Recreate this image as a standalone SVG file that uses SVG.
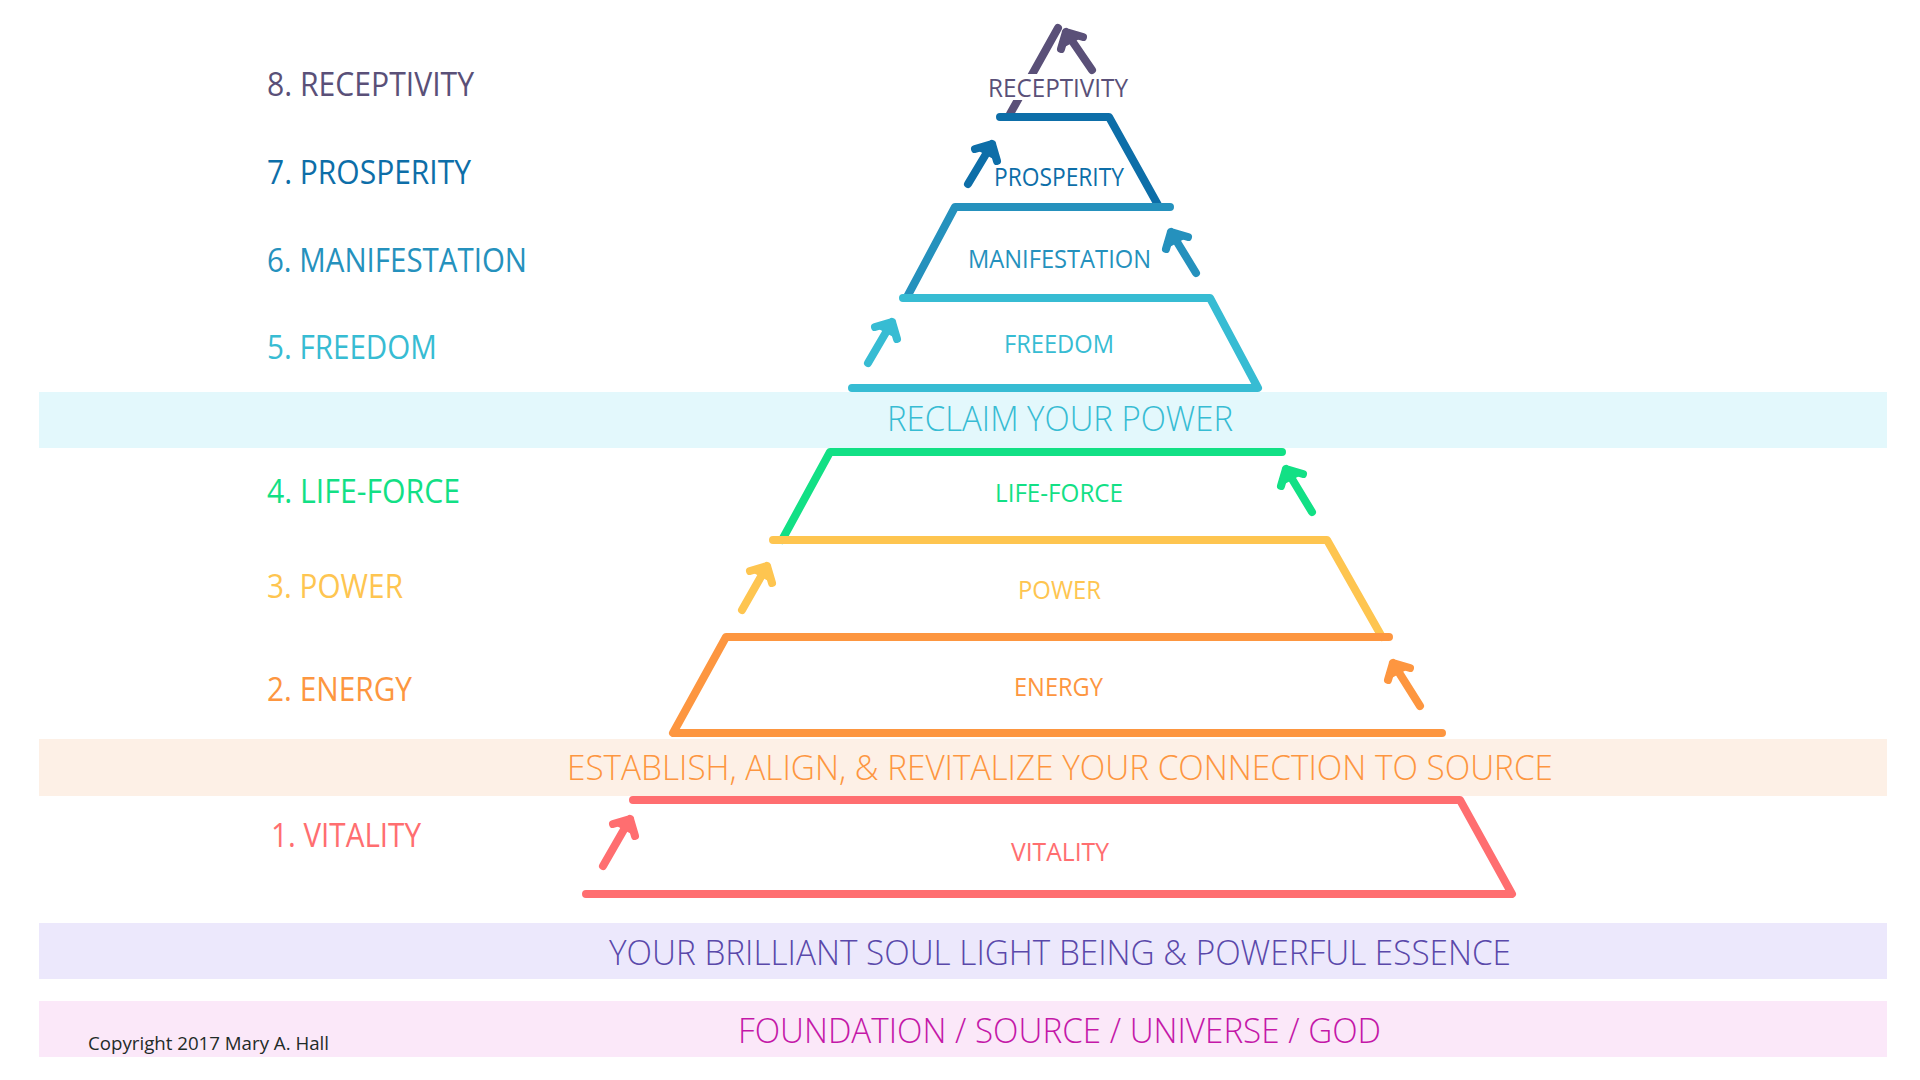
<svg xmlns="http://www.w3.org/2000/svg" width="1920" height="1080" viewBox="0 0 1920 1080">
<defs>
<style>
.ln{fill:none;stroke-width:8;stroke-linecap:round;stroke-linejoin:round}
.lbl{font-family:"Open Sans","Noto Sans","Liberation Sans",sans-serif;font-size:32px}
.in{font-family:"Open Sans","Noto Sans","Liberation Sans",sans-serif;font-size:26px;text-anchor:middle}
.band{font-family:"Open Sans","Noto Sans","Liberation Sans",sans-serif;font-size:35px;font-weight:300;text-anchor:middle}
.c8{stroke:#5a5078;fill:#5a5078}
.c7{stroke:#0d6ea8;fill:#0d6ea8}
.c6{stroke:#2591bd;fill:#2591bd}
.c5{stroke:#37bcd3;fill:#37bcd3}
.c4{stroke:#12e085;fill:#12e085}
.c3{stroke:#fec550;fill:#fec550}
.c2{stroke:#fd9640;fill:#fd9640}
.c1{stroke:#ff6e70;fill:#ff6e70}
text{stroke:none}
</style>
</defs>
<rect width="1920" height="1080" fill="#ffffff"/>

<g id="band-reclaim">
<rect x="39" y="392" width="1848" height="56" fill="#e3f8fc"/>
<text class="band" x="1060" y="431" fill="#37bcd3" textLength="346" lengthAdjust="spacingAndGlyphs">RECLAIM YOUR POWER</text>
</g>
<g id="band-establish">
<rect x="39" y="739" width="1848" height="57" fill="#fdf0e6"/>
<text class="band" x="1060" y="780" fill="#fd9640" textLength="986" lengthAdjust="spacingAndGlyphs">ESTABLISH, ALIGN, &amp; REVITALIZE YOUR CONNECTION TO SOURCE</text>
</g>
<g id="band-soul">
<rect x="39" y="923" width="1848" height="56" fill="#ece8fc"/>
<text class="band" x="1060" y="965" fill="#5a48aa" textLength="902" lengthAdjust="spacingAndGlyphs">YOUR BRILLIANT SOUL LIGHT BEING &amp; POWERFUL ESSENCE</text>
</g>
<g id="band-foundation">
<rect x="39" y="1001" width="1848" height="56" fill="#fbe8f9"/>
<text class="band" x="1059.5" y="1043" fill="#c418a8" textLength="643" lengthAdjust="spacingAndGlyphs">FOUNDATION / SOURCE / UNIVERSE / GOD</text>
<text x="88" y="1050" font-family="'Open Sans','Liberation Sans',sans-serif" font-size="19" fill="#1f2b28" textLength="241" lengthAdjust="spacingAndGlyphs">Copyright 2017 Mary A. Hall</text>
</g>

<g id="level-8-receptivity" class="c8">
<path class="ln" d="M1058,28 L1010,114"/>
<rect x="985" y="74" width="147" height="26" fill="#ffffff" stroke="none"/>
<text class="in" x="1058" y="97" textLength="140" lengthAdjust="spacingAndGlyphs">RECEPTIVITY</text>
<text class="lbl" x="267" y="96" textLength="207" lengthAdjust="spacingAndGlyphs">8. RECEPTIVITY</text>
</g>
<g id="level-7-prosperity" class="c7">
<path class="ln" d="M1000,117 L1109,117 L1158,205"/>
<text class="in" x="1059" y="186" textLength="130" lengthAdjust="spacingAndGlyphs">PROSPERITY</text>
<text class="lbl" x="267" y="184" textLength="204" lengthAdjust="spacingAndGlyphs">7. PROSPERITY</text>
</g>
<g id="level-6-manifestation" class="c6">
<path class="ln" d="M1170,207 L955,207 L907,297"/>
<text class="in" x="1059.5" y="268" textLength="183" lengthAdjust="spacingAndGlyphs">MANIFESTATION</text>
<text class="lbl" x="267" y="272" textLength="260" lengthAdjust="spacingAndGlyphs">6. MANIFESTATION</text>
</g>
<g id="level-5-freedom" class="c5">
<path class="ln" d="M903,298 L1210,298 L1258,388 L852,388"/>
<text class="in" x="1059" y="353" textLength="110" lengthAdjust="spacingAndGlyphs">FREEDOM</text>
<text class="lbl" x="267" y="359" textLength="170" lengthAdjust="spacingAndGlyphs">5. FREEDOM</text>
</g>
<g id="level-4-life-force" class="c4">
<path class="ln" d="M1282,452 L830,452 L782,540"/>
<text class="in" x="1059" y="502" textLength="128" lengthAdjust="spacingAndGlyphs">LIFE-FORCE</text>
<text class="lbl" x="267" y="503" textLength="193" lengthAdjust="spacingAndGlyphs">4. LIFE-FORCE</text>
</g>
<g id="level-3-power" class="c3">
<path class="ln" d="M773,540 L1327,540 L1382,637"/>
<text class="in" x="1059.5" y="599" textLength="83" lengthAdjust="spacingAndGlyphs">POWER</text>
<text class="lbl" x="267" y="598" textLength="136" lengthAdjust="spacingAndGlyphs">3. POWER</text>
</g>
<g id="level-2-energy" class="c2">
<path class="ln" d="M1389,637 L726,637 L673,733 L1442,733"/>
<text class="in" x="1058.5" y="696" textLength="89" lengthAdjust="spacingAndGlyphs">ENERGY</text>
<text class="lbl" x="267" y="701" textLength="145" lengthAdjust="spacingAndGlyphs">2. ENERGY</text>
</g>
<g id="level-1-vitality" class="c1">
<path class="ln" d="M633,800 L1460,800 L1512,894 L586,894"/>
<text class="in" x="1060" y="861" textLength="98" lengthAdjust="spacingAndGlyphs">VITALITY</text>
<text class="lbl" x="271" y="847" textLength="150" lengthAdjust="spacingAndGlyphs">1. VITALITY</text>
</g>

<g id="connectors">
<path class="ln c1" d="M603,866 L630,819 M613,824 L630,819 L635,836"/>
<path class="ln c2" d="M1420,706 L1393,663 M1388,680 L1393,663 L1410,668"/>
<path class="ln c3" d="M742,610 L767,566 M750,571 L767,566 L772,583"/>
<path class="ln c4" d="M1312,512 L1286,469 M1281,486 L1286,469 L1303,474"/>
<path class="ln c5" d="M868,363 L892,322 M875,327 L892,322 L897,339"/>
<path class="ln c6" d="M1196,273 L1171,232 M1166,249 L1171,232 L1188,237"/>
<path class="ln c7" d="M968,184 L992,144 M975,149 L992,144 L997,161"/>
<path class="ln c8" d="M1092,70 L1066,32 M1061,49 L1066,32 L1083,37"/>
</g>
</svg>
